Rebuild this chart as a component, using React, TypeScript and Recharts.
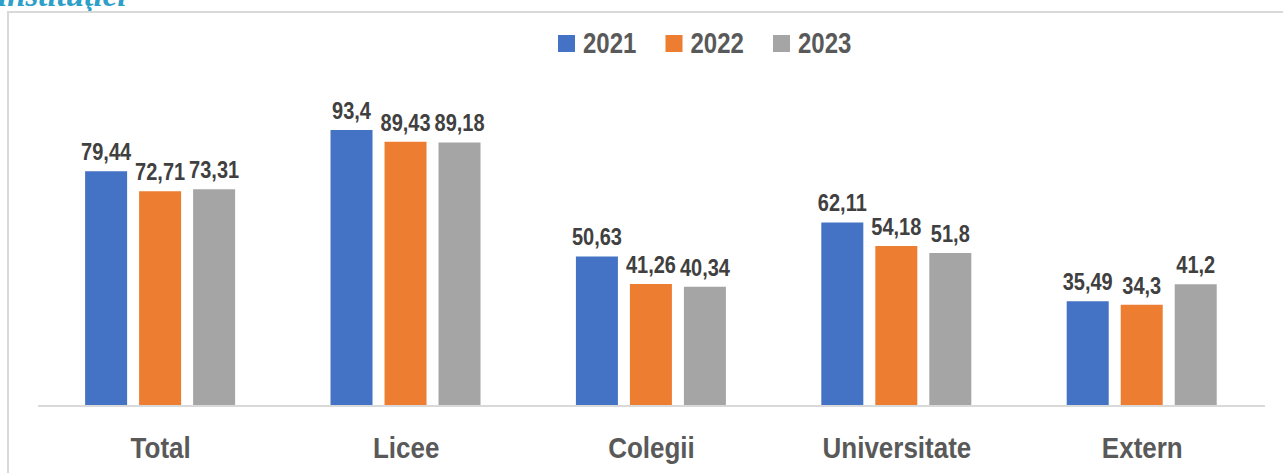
import React from 'react';
import { BarChart, Bar, XAxis, YAxis, Legend, LabelList } from 'recharts';

const categories = ['Total', 'Licee', 'Colegii', 'Universitate', 'Extern'];
const values2021 = [79.44, 93.4, 50.63, 62.11, 35.49];
const values2022 = [72.71, 89.43, 41.26, 54.18, 34.3];
const values2023 = [73.31, 89.18, 40.34, 51.8, 41.2];
const seriesKeys = ['y2021', 'y2022', 'y2023'];
const seriesNames = ['2021', '2022', '2023'];
const seriesColors = ['#4472C4', '#ED7D31', '#A5A5A5'];
const titleText = 'instituţiei';

const data = categories.map((c, i) => ({
  category: c,
  y2021: values2021[i],
  y2022: values2022[i],
  y2023: values2023[i],
}));

const FONT = '"Liberation Sans", Arial, sans-serif';
const fmt = (v: number) => String(v).replace('.', ',');

const ValueLabel = (props: any) => {
  const { x, y, width, value } = props;
  if (value == null) return null;
  const cx = Number(x) + Number(width) / 2;
  return (
    <text
      transform={`translate(${cx},${Number(y) - 11}) scale(1,1.15)`}
      textAnchor="middle"
      fontSize={20}
      fontWeight={700}
      fill="#404040"
      fontFamily={FONT}
    >
      {fmt(value)}
    </text>
  );
};

const CategoryTick = (props: any) => {
  const { x, y, payload } = props;
  return (
    <text
      transform={`translate(${x},${Number(y) + 52}) scale(1,1.17)`}
      textAnchor="middle"
      fontSize={26}
      fontWeight={700}
      fill="#595959"
      fontFamily={FONT}
    >
      {payload.value}
    </text>
  );
};

const LegendContent = () => (
  <svg width={320} height={40} style={{ display: 'block' }}>
    {seriesNames.map((n, i) => {
      const x0 = 8 + i * 107.5;
      return (
        <g key={n}>
          <rect x={x0} y={10} width={17} height={17} fill={seriesColors[i]} />
          <text
            transform={`translate(${x0 + 25},${27.5}) scale(1,1.22)`}
            fontSize={24}
            fontWeight={700}
            fill="#595959"
            fontFamily={FONT}
          >
            {n}
          </text>
        </g>
      );
    })}
  </svg>
);

export default function App() {
  return (
    <div
      style={{
        position: 'absolute',
        left: 0,
        top: 0,
        width: 1283,
        height: 473,
        overflow: 'hidden',
        background: '#ffffff',
      }}
    >
      <svg
        width={300}
        height={20}
        style={{ position: 'absolute', left: 0, top: 0 }}
      >
        <text
          x={-2}
          y={6}
          fontSize={33}
          fontWeight={700}
          fontStyle="italic"
          fill="#2E9FC8"
          fontFamily='"Liberation Serif", "Times New Roman", serif'
        >
          {titleText}
        </text>
      </svg>
      <div
        style={{
          position: 'absolute',
          left: 7,
          top: 11,
          width: 1400,
          height: 600,
          border: '2px solid #d9d9d9',
          boxSizing: 'border-box',
        }}
      />
      <div style={{ position: 'absolute', left: 0, top: 0 }}>
        <BarChart
          width={1283}
          height={473}
          data={data}
          margin={{ top: 110.5, right: 18, bottom: 37, left: 38 }}
          barCategoryGap="19.2%"
          barGap={12}
        >
          <XAxis
            dataKey="category"
            axisLine={{ stroke: '#d9d9d9', strokeWidth: 2 }}
            tickLine={false}
            tickSize={0}
            tickMargin={0}
            height={30}
            interval={0}
            tick={<CategoryTick />}
          />
          <YAxis hide domain={[0, 100]} />
          <Legend
            verticalAlign="middle"
            align="center"
            layout="horizontal"
            content={<LegendContent />}
            wrapperStyle={{ position: 'absolute', left: 550, top: 25, width: 320, height: 40 }}
          />
          {seriesKeys.map((k, i) => (
            <Bar
              key={k}
              dataKey={k}
              name={seriesNames[i]}
              fill={seriesColors[i]}
              isAnimationActive={false}
            >
              <LabelList dataKey={k} content={<ValueLabel />} />
            </Bar>
          ))}
        </BarChart>
      </div>
    </div>
  );
}
